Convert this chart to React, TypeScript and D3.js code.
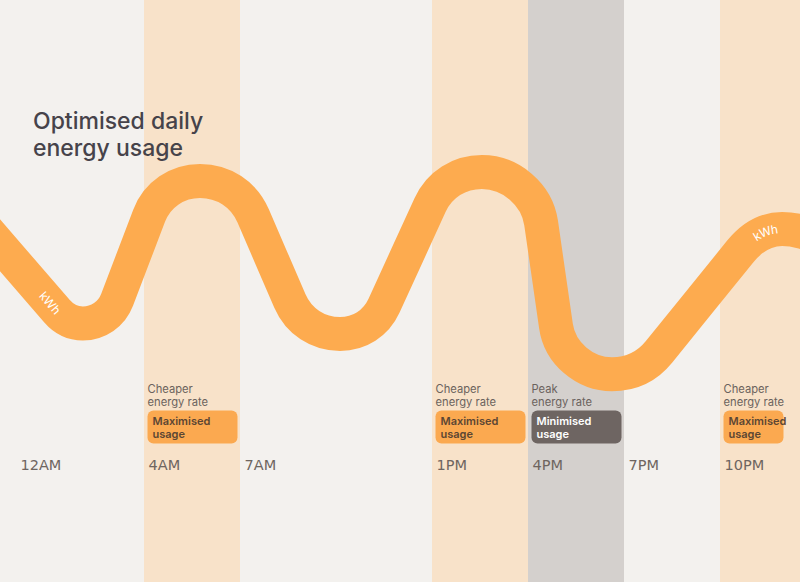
import React, { useEffect, useRef } from "react";
import * as d3 from "d3";

const W = 800;
const H = 582;

// usage curve: hour of day vs kWh (turning points and the ends of each straight stretch)
const curveHours = [-1.75, 1.28, 2.09, 3.16, 4.16, 5.75, 7.41, 8.56, 10.125, 11.5, 12.94, 14.56, 16.41, 16.875, 18.625, 20.09, 22.625, 23.94, 25.75];
const curveKwh = [3.35, 1.48, 1.275, 1.67, 3.07, 3.65, 3.07, 1.65, 1.1, 1.57, 3.25, 3.8, 2.95, 1.23, 0.43, 0.8, 2.47, 2.85, 2.58];

// rate bands (hours)
const bandStart = [4, 13, 16, 22];
const bandEnd = [7, 16, 19, 25];
const bandKind = ["cheap", "cheap", "peak", "cheap"];
const bandRate = [["Cheaper", "energy rate"], ["Cheaper", "energy rate"], ["Peak", "energy rate"], ["Cheaper", "energy rate"]];
const bandAction = [["Maximised", "usage"], ["Maximised", "usage"], ["Minimised", "usage"], ["Maximised", "usage"]];

// x-axis ticks
const tickHours = [0, 4, 7, 13, 16, 19, 22];
const tickLabels = ["12AM", "4AM", "7AM", "1PM", "4PM", "7PM", "10PM"];

const titleLines = ["Optimised daily", "energy usage"];
const kwhLabelHours = [1.06, 23.4];

export default function App() {
  const ref = useRef<SVGSVGElement | null>(null);

  useEffect(() => {
    document.body.style.margin = "0";
    const svg = d3.select(ref.current);
    svg.selectAll("*").remove();

    const x = d3.scaleLinear().domain([0, 24]).range([16, 784]);
    const y = d3.scaleLinear().domain([0, 4]).range([400, 160]);

    const sans = "Inter, 'Noto Sans', Roboto, sans-serif";

    svg.append("rect").attr("width", W).attr("height", H).attr("fill", "#f3f1ee");

    const bands = d3.range(bandStart.length);
    svg
      .selectAll("rect.band")
      .data(bands)
      .enter()
      .append("rect")
      .attr("class", "band")
      .attr("x", (i) => x(bandStart[i]))
      .attr("y", 0)
      .attr("width", (i) => x(bandEnd[i]) - x(bandStart[i]))
      .attr("height", H)
      .attr("fill", (i) => (bandKind[i] === "peak" ? "#d4d0cd" : "#f8e2c9"));

    // title
    svg
      .append("text")
      .attr("font-family", sans)
      .attr("font-size", 23)
      .attr("font-weight", 500)
      .attr("fill", "#46434a")
      .selectAll("tspan")
      .data(titleLines)
      .enter()
      .append("tspan")
      .attr("x", 33)
      .attr("y", (_, i) => 129 + i * 27)
      .text((d) => d);

    // curve: rounded at the turning points, straight along the flanks
    const P = curveHours.map((h, i) => [x(h), y(curveKwh[i])] as [number, number]);
    const n = P.length;
    const isTurn = P.map((p, i) => {
      if (i === 0 || i === n - 1) return false;
      return (p[1] - P[i - 1][1]) * (P[i + 1][1] - p[1]) <= 0;
    });
    const unit = (a: [number, number], b: [number, number]) => {
      const dx = b[0] - a[0],
        dy = b[1] - a[1];
      const l = Math.hypot(dx, dy) || 1;
      return [dx / l, dy / l];
    };
    const tangent = P.map((p, i) => {
      if (i === 0) return unit(p, P[1]);
      if (i === n - 1) return unit(P[n - 2], p);
      if (isTurn[i]) return [1, 0];
      const prevFlank = !isTurn[i - 1];
      const nextFlank = !isTurn[i + 1];
      if (nextFlank && !prevFlank) return unit(p, P[i + 1]);
      if (prevFlank && !nextFlank) return unit(P[i - 1], p);
      return unit(P[i - 1], P[i + 1]);
    });
    const pth = d3.path();
    pth.moveTo(P[0][0], P[0][1]);
    const k = 0.37;
    for (let i = 0; i < n - 1; i++) {
      const a = P[i],
        b = P[i + 1];
      const L = Math.hypot(b[0] - a[0], b[1] - a[1]) * k;
      const ta = tangent[i],
        tb = tangent[i + 1];
      pth.bezierCurveTo(a[0] + ta[0] * L, a[1] + ta[1] * L, b[0] - tb[0] * L, b[1] - tb[1] * L, b[0], b[1]);
    }

    const path = svg
      .append("path")
      .attr("id", "usageCurve")
      .attr("d", pth.toString())
      .attr("fill", "none")
      .attr("stroke", "#fdab4f")
      .attr("stroke-width", 34);

    const node = path.node() as SVGPathElement;
    const total = node.getTotalLength();
    const lengthAtX = (tx: number) => {
      let lo = 0,
        hi = total;
      for (let it = 0; it < 40; it++) {
        const mid = (lo + hi) / 2;
        if (node.getPointAtLength(mid).x < tx) lo = mid;
        else hi = mid;
      }
      return (lo + hi) / 2;
    };

    kwhLabelHours.forEach((h) => {
      svg
        .append("text")
        .attr("font-family", sans)
        .attr("font-size", 12)
        .attr("fill", "#ffffff")
        .attr("dy", "0.35em")
        .append("textPath")
        .attr("href", "#usageCurve")
        .attr("startOffset", lengthAtX(x(h)))
        .attr("text-anchor", "middle")
        .text("kWh");
    });

    // annotations
    const ann = svg.selectAll("g.ann").data(bands).enter().append("g").attr("class", "ann");
    ann
      .append("text")
      .attr("font-family", sans)
      .attr("font-size", 11.2)
      .attr("fill", "#6b625d")
      .selectAll("tspan")
      .data((i) => bandRate[i].map((t) => ({ t, i })))
      .enter()
      .append("tspan")
      .attr("x", (d) => x(bandStart[d.i]) + 3.5)
      .attr("y", (_, j) => 393 + j * 13)
      .text((d) => d.t);

    ann
      .append("rect")
      .attr("x", (i) => x(bandStart[i]) + 3.5)
      .attr("y", 410.5)
      .attr("width", (i) => Math.min(x(bandEnd[i]) - x(bandStart[i]) - 6, W - x(bandStart[i]) - 20))
      .attr("height", 33)
      .attr("rx", 6)
      .attr("fill", (i) => (bandKind[i] === "peak" ? "#6e6562" : "#fba950"));

    ann
      .append("text")
      .attr("font-family", sans)
      .attr("font-size", 11)
      .attr("font-weight", 600)
      .attr("fill", (i) => (bandKind[i] === "peak" ? "#ffffff" : "#5c4633"))
      .selectAll("tspan")
      .data((i) => bandAction[i].map((t) => ({ t, i })))
      .enter()
      .append("tspan")
      .attr("x", (d) => x(bandStart[d.i]) + 8.5)
      .attr("y", (_, j) => 425 + j * 12.5)
      .text((d) => d.t);

    // x axis labels
    svg
      .selectAll("text.tick")
      .data(tickHours)
      .enter()
      .append("text")
      .attr("class", "tick")
      .attr("x", (h) => x(h) + 4.5)
      .attr("y", 470)
      .attr("font-family", "'DejaVu Sans', sans-serif")
      .attr("font-size", 14.5)
      .attr("fill", "#6e6560")
      .text((_, i) => tickLabels[i]);
  }, []);

  return <svg ref={ref} width={W} height={H} style={{ display: "block", position: "absolute", left: 0, top: 0 }} />;
}
